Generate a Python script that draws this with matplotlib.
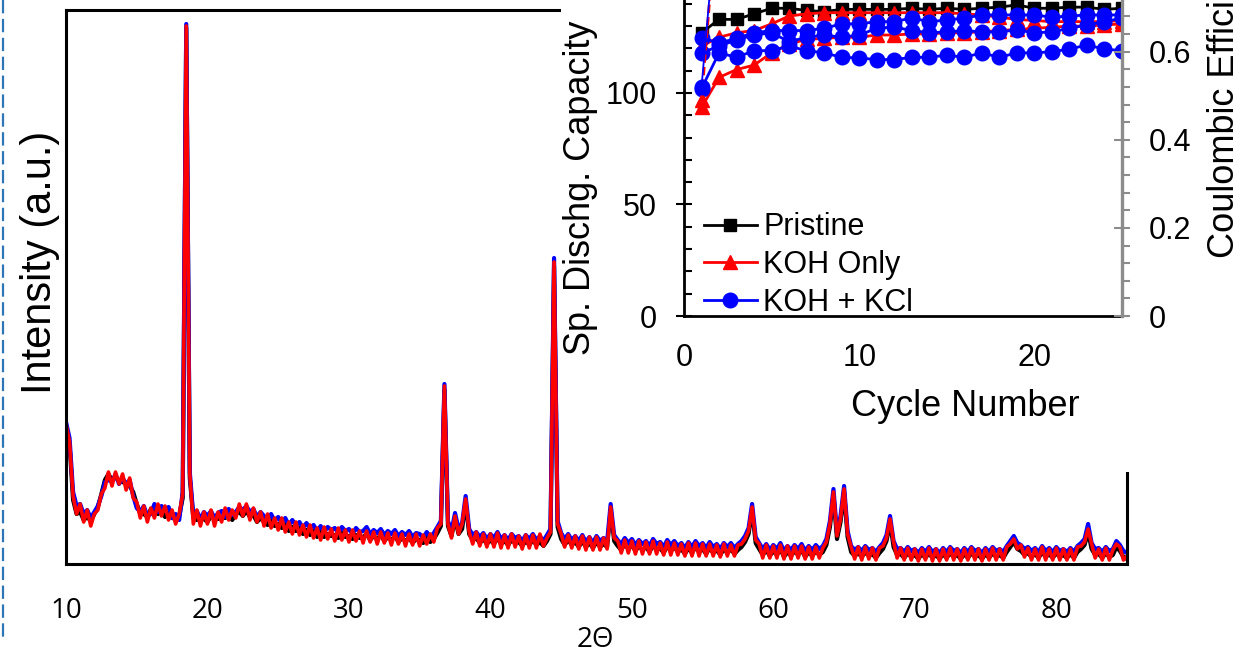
import numpy as np
import matplotlib
matplotlib.use('Agg')
import matplotlib.pyplot as plt
from matplotlib.lines import Line2D
from matplotlib.patches import Rectangle
from matplotlib.ticker import MultipleLocator, FixedLocator, FuncFormatter

plt.rcParams['font.family'] = ['Liberation Sans', 'DejaVu Sans']

# XRD patterns, every 0.25 deg from 10 to 85
two_theta = np.arange(10, 85.001, 0.25)

xrd_pristine = [
    138, 120, 64, 50,   52, 44, 47, 43,   50, 57, 70, 84,   90, 84, 86, 84,
    82, 80, 78, 72,     60, 51, 50, 47,   55, 52, 50, 53,   47, 52, 46, 45,
    48, 66, 536, 86,    46, 44, 47, 45,   42, 48, 46, 45,   47, 46, 49, 44,
    50, 52, 48, 53,     47, 49, 42, 46,   42, 39, 44, 38,   40, 36, 40, 33,
    37, 33, 36, 30,     34, 29, 33, 27,   32, 27, 30, 28,   29, 26, 31, 27,
    28, 25, 29, 26,     27, 30, 24, 28,   25, 29, 23, 27,   24, 28, 22, 26,
    23, 26, 21, 25,     24, 21, 26, 22,   25, 31, 38, 174,  38, 28, 45, 30,
    35, 62, 30, 24,     26, 21, 25, 20,   24, 20, 26, 20,   23, 19, 24, 21,
    22, 18, 23, 19,     24, 19, 22, 18,   23, 30, 298, 37,  25, 19, 24, 19,
    22, 17, 23, 17,     21, 16, 22, 17,   20, 17, 54, 23,   18, 14, 20, 15,
    19, 13, 18, 14,     17, 12, 19, 14,   16, 11, 18, 13,   17, 12, 15, 10,
    16, 11, 17, 12,     15, 10, 16, 11,   14, 9, 15, 11,    15, 10, 14, 17,
    22, 30, 54, 21,     15, 9, 14, 8,     13, 9, 15, 7,     12, 8, 13, 9,
    14, 7, 12, 8,       13, 9, 12, 19,    37, 69, 25, 42,   72, 27, 12, 8,
    11, 7, 12, 8,       10, 6, 11, 15,    23, 42, 17, 9,    10, 6, 11, 7,
    9, 5, 10, 6,        11, 6, 9, 5,      10, 6, 11, 7,     9, 5, 10, 6,
    11, 7, 9, 5,        10, 6, 11, 7,     9, 6, 12, 17,     22, 15, 13, 9,
    11, 7, 10, 6,       12, 7, 10, 6,     11, 7, 9, 6,      10, 6, 12, 15,
    19, 32, 15, 9,      10, 6, 11, 7,     9, 17, 13, 7,
    5]

xrd_koh_kcl = [
    142, 126, 72, 58,   60, 50, 54, 46,   52, 58, 68, 82,   84, 82, 90, 80,
    86, 80, 84, 68,     56, 52, 58, 48,   50, 60, 52, 58,   54, 57, 46, 50,
    44, 72, 540, 92,    48, 53, 45, 52,   48, 53, 46, 51,   53, 47, 55, 49,
    52, 57, 54, 58,     52, 55, 47, 52,   48, 44, 50, 43,   47, 41, 46, 39,
    44, 38, 42, 36,     41, 35, 39, 33,   38, 32, 37, 34,   36, 31, 37, 33,
    35, 30, 36, 32,     33, 37, 30, 34,   31, 35, 29, 33,   30, 34, 28, 32,
    29, 33, 27, 31,     30, 26, 32, 27,   31, 37, 43, 180,  43, 33, 51, 35,
    41, 68, 35, 29,     32, 27, 31, 25,   30, 26, 32, 25,   29, 24, 30, 26,
    28, 23, 29, 25,     30, 24, 28, 23,   29, 35, 306, 43,  31, 25, 30, 24,
    28, 23, 29, 22,     27, 21, 28, 23,   26, 22, 60, 29,   24, 20, 26, 21,
    25, 19, 24, 20,     23, 18, 25, 20,   22, 17, 24, 19,   23, 18, 21, 16,
    22, 17, 23, 18,     21, 16, 22, 17,   20, 15, 21, 17,   21, 16, 20, 23,
    28, 36, 60, 27,     21, 15, 20, 14,   19, 15, 21, 13,   18, 14, 19, 15,
    20, 13, 18, 14,     19, 15, 18, 25,   43, 75, 31, 48,   78, 33, 18, 14,
    17, 13, 18, 14,     16, 12, 17, 21,   29, 48, 23, 15,   16, 12, 17, 13,
    15, 11, 16, 12,     17, 12, 15, 11,   16, 12, 17, 13,   15, 11, 16, 12,
    17, 13, 15, 11,     16, 12, 17, 13,   15, 12, 18, 23,   28, 21, 19, 15,
    17, 13, 16, 12,     18, 13, 16, 12,   17, 13, 15, 12,   16, 12, 18, 21,
    25, 40, 21, 15,     16, 12, 17, 13,   15, 23, 19, 13,
    11]

xrd_koh = [
    140, 122, 68, 50,   60, 42, 54, 38,   50, 54, 70, 76,   92, 78, 92, 80,
    90, 74, 86, 66,     62, 46, 58, 42,   56, 46, 60, 48,   58, 44, 54, 40,
    50, 70, 538, 90,    40, 54, 38, 52,   40, 54, 38, 52,   42, 56, 44, 54,
    46, 60, 48, 60,     44, 56, 42, 52,   38, 50, 36, 46,   34, 46, 32, 42,
    30, 42, 29, 39,     27, 39, 26, 36,   24, 37, 25, 35,   23, 36, 24, 34,
    22, 34, 23, 33,     21, 33, 22, 32,   20, 32, 21, 31,   19, 31, 20, 30,
    18, 30, 19, 30,     18, 29, 20, 30,   22, 36, 40, 178,  40, 26, 48, 30,
    40, 65, 32, 20,     32, 18, 30, 17,   30, 17, 31, 16,   29, 16, 30, 17,
    28, 15, 29, 16,     29, 16, 30, 18,   26, 32, 302, 40,  30, 17, 29, 16,
    28, 15, 28, 14,     27, 14, 27, 14,   26, 15, 57, 26,   23, 11, 24, 11,
    23, 10, 23, 10,     22, 10, 23, 10,   21, 9, 22, 9,     21, 9, 20, 8,
    21, 8, 21, 8,       20, 8, 20, 8,     19, 7, 20, 8,     19, 8, 19, 20,
    25, 33, 57, 24,     20, 6, 19, 6,     18, 6, 19, 5,     18, 5, 18, 6,
    18, 5, 17, 5,       17, 6, 16, 22,    40, 72, 28, 45,   75, 30, 17, 5,
    17, 4, 17, 5,       16, 4, 16, 18,    26, 45, 22, 6,    16, 4, 16, 4,
    15, 3, 15, 4,       16, 3, 15, 3,     15, 4, 16, 4,     15, 3, 15, 4,
    16, 4, 15, 3,       15, 4, 16, 4,     15, 4, 17, 20,    25, 15, 19, 7,
    16, 4, 15, 4,       17, 4, 15, 4,     16, 4, 15, 4,     15, 4, 17, 18,
    22, 35, 20, 6,      15, 4, 16, 4,     14, 20, 17, 4,
    8]

xrd_ticks = [10, 20, 30, 40, 50, 60, 70, 80]

# inset: cycling data
cycles = list(range(1, 26))
cap_pristine = [127, 133, 133, 135.5, 138, 138, 137, 136.5, 137.5, 137.5, 137.5, 137.5, 138,
                137.5, 138, 137.5, 138, 138.5, 139.5, 138, 138, 138.5, 138.5, 137.5, 138]
cap_koh = [121, 125, 127, 128, 131, 134.5, 135.5, 136, 136, 136, 136, 136, 136,
           136, 136, 135.5, 135, 134, 133, 132.5, 132, 132, 132, 132, 132.5]
cap_koh_2 = [93.5, 107, 110.5, 112.5, 118, 122, 124, 124.5, 125, 125, 126, 126, 126.5,
             126.5, 127, 127, 127.5, 128, 128.5, 129, 129.5, 130, 130, 130.5, 131]
cap_kcl = [124.7, 122.4, 124.5, 127, 128, 128, 128, 129, 131, 131, 132, 132, 133.6,
           132, 132.7, 133.6, 135, 135, 135, 135, 134, 134.5, 135, 135, 135]
cap_kcl_2 = [118, 121, 123.8, 126, 127, 123, 125, 126, 125, 126, 129, 129.6, 128,
             127, 127.4, 128, 127.4, 127.4, 128.3, 127, 127.4, 129, 130.5, 132, 133.6]
cap_kcl_3 = [102, 118, 116, 119, 119, 121, 119, 118, 116, 115.7, 115, 115, 116,
             116, 117, 116, 118, 116, 118, 118, 118.5, 119.7, 121.5, 119.7, 119]
ce_koh = [0.49, 0.98, 0.99, 0.99, 0.99, 0.99, 0.99, 0.99, 0.99, 0.99, 0.99, 0.99, 0.99,
          0.99, 0.99, 0.99, 0.99, 0.99, 0.99, 0.99, 0.99, 0.99, 0.99, 0.99, 0.99]
ce_kcl = [0.52, 0.97, 0.98, 0.98, 0.98, 0.98, 0.98, 0.98, 0.98, 0.98, 0.98, 0.98, 0.98,
          0.98, 0.98, 0.98, 0.98, 0.98, 0.98, 0.98, 0.98, 0.98, 0.98, 0.98, 0.98]

W, H = 1249, 655
fig = plt.figure(figsize=(W / 100, H / 100), dpi=100)

# main XRD axes
ax = fig.add_axes([66 / W, 1 - 564 / H, (1127 - 66) / W, (564 - 10) / H])
ax.set_zorder(0)
ax.plot(two_theta, xrd_pristine, color='black', lw=3.0)
ax.plot(two_theta, xrd_koh_kcl, color='blue', lw=3.0)
ax.plot(two_theta, xrd_koh, color='red', lw=2.6)
ax.set_xlim(10, 85)
ax.set_ylim(0, 554)
ax.set_xticks(xrd_ticks)
ax.set_yticks([])
ax.tick_params(axis='x', length=0, pad=24, labelsize=20)
for lab in ax.get_xticklabels():
    lab.set_fontfamily(['Open Sans', 'DejaVu Sans'])
for s in ax.spines.values():
    s.set_linewidth(2.2)

fig.text(40 / W, 1 - 262 / H, 'Intensity (a.u.)', rotation=90, ha='center', va='center', fontsize=30)
fig.text(595 / W, 1 - 640 / H, '2Θ', ha='center', va='center', fontsize=20,
         family=['Open Sans', 'DejaVu Sans'])

# white box behind the inset
fig.add_artist(Rectangle((561 / W, 1 - 472 / H), 1 - 561 / W, 472 / H, transform=fig.transFigure,
                         facecolor='white', edgecolor='none', zorder=1))

# dashed frame line at the left edge
fig.add_artist(Line2D([3 / W, 3 / W], [1, 1 - 640 / H], transform=fig.transFigure,
                      color='#2e75b6', lw=1.6, linestyle=(0, (6, 2.5)), zorder=1))

# inset axes
ax_in = fig.add_axes([684 / W, 1 - 316 / H, (1122 - 684) / W, (316 + 33) / H])
ax_in.set_zorder(2)
ax_ce = ax_in.twinx()
ax_ce.set_zorder(3)

ax_in.plot(cycles, cap_pristine, color='black', marker='s', ms=8, lw=2, label='Pristine')
ax_in.plot(cycles, cap_koh, color='red', marker='^', ms=10, lw=2, label='KOH Only')
ax_in.plot(cycles, cap_koh_2, color='red', marker='^', ms=10, lw=2)
ax_in.plot(cycles, cap_kcl, color='blue', marker='o', ms=10.5, lw=2, label='KOH + KCl')
ax_in.plot(cycles, cap_kcl_2, color='blue', marker='o', ms=10.5, lw=2)
ax_in.plot(cycles, cap_kcl_3, color='blue', marker='o', ms=10.5, lw=2)

ax_ce.plot(cycles, ce_koh, color='red', marker='^', ms=10, lw=2, linestyle=(0, (3, 1.5)))
ax_ce.plot(cycles, ce_kcl, color='blue', marker='o', ms=10.5, lw=1.3)

ax_in.set_xlim(0, 25)
ax_in.set_ylim(0, 156.5)
ax_ce.set_ylim(0, 0.7923)

ax_in.xaxis.set_major_locator(MultipleLocator(10))
ax_in.yaxis.set_major_locator(FixedLocator([0, 50, 100]))
ax_in.yaxis.set_minor_locator(FixedLocator([10, 20, 30, 40, 60, 70, 80, 90, 110, 120, 130, 140, 150]))
ax_ce.yaxis.set_major_locator(FixedLocator([0, 0.2, 0.4, 0.6]))
ax_ce.yaxis.set_minor_locator(MultipleLocator(0.04))
ax_ce.yaxis.set_major_formatter(FuncFormatter(lambda v, p: '0' if abs(v) < 1e-9 else '%.1f' % v))

ax_in.tick_params(axis='x', length=0, pad=19.5, labelsize=22)
ax_in.tick_params(axis='y', which='major', direction='inout', length=12, width=1.5, labelsize=22, pad=13.5)
ax_in.tick_params(axis='y', which='minor', direction='in', length=6, width=1.5)
ax_ce.tick_params(axis='y', which='major', direction='inout', length=12, width=1.5,
                  color='#8c8c8c', labelsize=22, pad=13.5)
ax_ce.tick_params(axis='y', which='minor', direction='out', length=6, width=1.5, color='#8c8c8c')

for name in ['top', 'right']:
    ax_in.spines[name].set_visible(False)
for name in ['top', 'left', 'bottom']:
    ax_ce.spines[name].set_visible(False)
ax_in.spines['left'].set_linewidth(2)
ax_in.spines['bottom'].set_linewidth(2)
ax_ce.spines['right'].set_linewidth(2.4)
ax_ce.spines['right'].set_color('#8c8c8c')

ax_in.legend(loc='lower left', bbox_to_anchor=(0.045, -0.005), frameon=False, fontsize=22,
             borderpad=0, borderaxespad=0, handlelength=1.75, handletextpad=0.2, labelspacing=0.25)

fig.text(965 / W, 1 - 416 / H, 'Cycle Number', ha='center', va='baseline', fontsize=26, zorder=5)
fig.text(581 / W, 1 - 355 / H, 'Sp. Dischg. Capacity', rotation=90, ha='center', va='bottom',
         fontsize=26, zorder=5)
fig.text(1225 / W, 1 - 258 / H, 'Coulombic Efficiency', rotation=90, ha='center', va='bottom',
         fontsize=26, zorder=5)

fig.savefig('out.png', dpi=100)
